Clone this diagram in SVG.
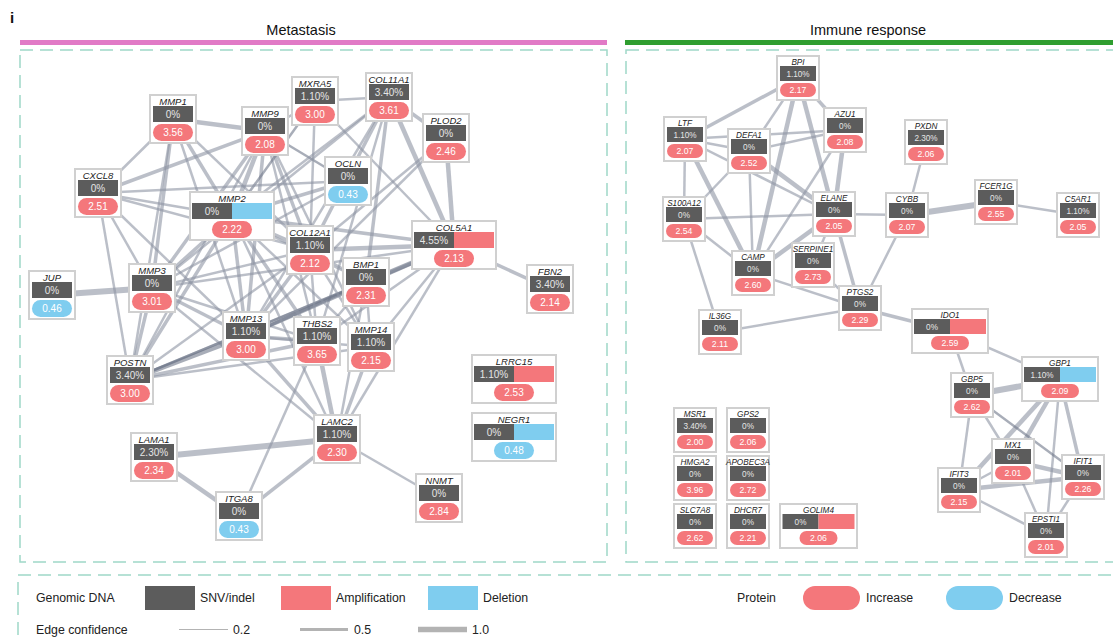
<svg xmlns="http://www.w3.org/2000/svg" width="1113" height="641" viewBox="0 0 1113 641">
<style>
text{font-family:"Liberation Sans",Arial,sans-serif}
.box{fill:#fff;stroke:#d0d0d0;stroke-width:2}
.snv{fill:#5c5c5c}
.amp{fill:#f4777b}
.del{fill:#7fcdef}
.inc{fill:#f4777b}
.dec{fill:#7fcdef}
.nm{font-size:9.5px;font-style:italic;fill:#222;text-anchor:middle}
.pc{font-size:10px;fill:#e6e6e6;text-anchor:middle}
.vl{font-size:10px;fill:#fff;text-anchor:middle}
.r .nm{font-size:8.2px}
.r .pc{font-size:8.2px}
.r .vl{font-size:8.7px}
.dash{fill:none;stroke:#9fd8c8;stroke-width:1.5;stroke-dasharray:13 7}
#edges line{stroke:#8e95a4;stroke-opacity:0.6;stroke-linecap:butt}
#edges line.dk{stroke:#6e7789;stroke-opacity:0.6}
.w3{stroke-width:2.5}
.w4{stroke-width:3.5}
.w5{stroke-width:4.5}
.w6{stroke-width:6}
.lg{font-size:12.3px;fill:#222}
</style>

<text x="10" y="23" style="font-size:15px;font-weight:bold;fill:#111">i</text>
<text x="301" y="35" style="font-size:14.5px;fill:#111;text-anchor:middle">Metastasis</text>
<text x="868" y="35" style="font-size:14.5px;fill:#111;text-anchor:middle">Immune response</text>
<rect x="20" y="40" width="587" height="5" fill="#e17ac6"/>
<rect x="625" y="40" width="488" height="5" fill="#2f9e2f"/>
<rect class="dash" x="20" y="50" width="587" height="512"/>
<rect class="dash" x="626" y="50" width="500" height="512"/>
<rect class="dash" x="18" y="575" width="1110" height="80"/>

<g id="edges">
<line class="w5" x1="173" y1="119" x2="265" y2="131"/>
<line class="w3" x1="173" y1="119" x2="98" y2="193"/>
<line class="w4" x1="173" y1="119" x2="152" y2="288"/>
<line class="w3" x1="173" y1="119" x2="130" y2="380"/>
<line class="w4" x1="173" y1="119" x2="232" y2="216"/>
<line class="w3" x1="173" y1="119" x2="310" y2="250"/>
<line class="w3" x1="173" y1="119" x2="246" y2="336"/>
<line class="w4" x1="265" y1="131" x2="98" y2="193"/>
<line class="w5" x1="265" y1="131" x2="232" y2="216"/>
<line class="w4" x1="265" y1="131" x2="152" y2="288"/>
<line class="w4" x1="265" y1="131" x2="246" y2="336"/>
<line class="w3" x1="265" y1="131" x2="130" y2="380"/>
<line class="w4" x1="265" y1="131" x2="310" y2="250"/>
<line class="w3" x1="265" y1="131" x2="317" y2="341"/>
<line class="w3" x1="265" y1="131" x2="371" y2="347"/>
<line class="w3" x1="265" y1="131" x2="315" y2="101"/>
<line class="w3 dk" x1="265" y1="131" x2="348" y2="181"/>
<line class="w3" x1="315" y1="101" x2="389" y2="97"/>
<line class="w3" x1="315" y1="101" x2="310" y2="250"/>
<line class="w3" x1="315" y1="101" x2="454" y2="245"/>
<line class="w3 dk" x1="315" y1="101" x2="232" y2="216"/>
<line class="w4" x1="389" y1="97" x2="446" y2="138"/>
<line class="w5" x1="389" y1="97" x2="454" y2="245"/>
<line class="w4" x1="389" y1="97" x2="310" y2="250"/>
<line class="w3" x1="389" y1="97" x2="232" y2="216"/>
<line class="w3" x1="389" y1="97" x2="246" y2="336"/>
<line class="w4" x1="389" y1="97" x2="366" y2="282"/>
<line class="w3" x1="389" y1="97" x2="317" y2="341"/>
<line class="w3" x1="389" y1="97" x2="152" y2="288"/>
<line class="w5" x1="446" y1="138" x2="454" y2="245"/>
<line class="w3" x1="446" y1="138" x2="310" y2="250"/>
<line class="w3" x1="446" y1="138" x2="246" y2="336"/>
<line class="w4" x1="348" y1="181" x2="232" y2="216"/>
<line class="w3" x1="348" y1="181" x2="152" y2="288"/>
<line class="w3" x1="348" y1="181" x2="98" y2="193"/>
<line class="w4" x1="454" y1="245" x2="550" y2="289"/>
<line class="w5 dk" x1="454" y1="245" x2="366" y2="282"/>
<line class="w5" x1="454" y1="245" x2="310" y2="250"/>
<line class="w4" x1="454" y1="245" x2="232" y2="216"/>
<line class="w3" x1="454" y1="245" x2="371" y2="347"/>
<line class="w3" x1="454" y1="245" x2="317" y2="341"/>
<line class="w3" x1="454" y1="245" x2="337" y2="439"/>
<line class="w4 dk" x1="454" y1="245" x2="246" y2="336"/>
<line class="w3" x1="454" y1="245" x2="130" y2="380"/>
<line class="w3" x1="454" y1="245" x2="152" y2="288"/>
<line class="w6" x1="52" y1="295" x2="152" y2="288"/>
<line class="w4" x1="152" y1="288" x2="130" y2="380"/>
<line class="w4" x1="152" y1="288" x2="246" y2="336"/>
<line class="w4" x1="152" y1="288" x2="232" y2="216"/>
<line class="w3" x1="152" y1="288" x2="98" y2="193"/>
<line class="w3" x1="152" y1="288" x2="310" y2="250"/>
<line class="w3" x1="152" y1="288" x2="317" y2="341"/>
<line class="w3" x1="152" y1="288" x2="337" y2="439"/>
<line class="w5 dk" x1="130" y1="380" x2="246" y2="336"/>
<line class="w4" x1="130" y1="380" x2="317" y2="341"/>
<line class="w3" x1="130" y1="380" x2="371" y2="347"/>
<line class="w3 dk" x1="130" y1="380" x2="366" y2="282"/>
<line class="w3" x1="130" y1="380" x2="310" y2="250"/>
<line class="w3" x1="130" y1="380" x2="98" y2="193"/>
<line class="w4" x1="130" y1="380" x2="232" y2="216"/>
<line class="w4" x1="246" y1="336" x2="232" y2="216"/>
<line class="w4" x1="246" y1="336" x2="310" y2="250"/>
<line class="w4" x1="246" y1="336" x2="317" y2="341"/>
<line class="w4 dk" x1="246" y1="336" x2="366" y2="282"/>
<line class="w3" x1="246" y1="336" x2="371" y2="347"/>
<line class="w4" x1="246" y1="336" x2="337" y2="439"/>
<line class="w5" x1="317" y1="341" x2="337" y2="439"/>
<line class="w3" x1="317" y1="341" x2="366" y2="282"/>
<line class="w3" x1="317" y1="341" x2="310" y2="250"/>
<line class="w4" x1="317" y1="341" x2="232" y2="216"/>
<line class="w4" x1="371" y1="347" x2="337" y2="439"/>
<line class="w3" x1="371" y1="347" x2="366" y2="282"/>
<line class="w3" x1="371" y1="347" x2="310" y2="250"/>
<line class="w3" x1="371" y1="347" x2="232" y2="216"/>
<line class="w3" x1="366" y1="282" x2="337" y2="439"/>
<line class="w3" x1="366" y1="282" x2="310" y2="250"/>
<line class="w3" x1="366" y1="282" x2="232" y2="216"/>
<line class="w4" x1="310" y1="250" x2="232" y2="216"/>
<line class="w6" x1="337" y1="439" x2="154" y2="457"/>
<line class="w4" x1="337" y1="439" x2="239" y2="516"/>
<line class="w3" x1="337" y1="439" x2="439" y2="498"/>
<line class="w5" x1="154" y1="457" x2="239" y2="516"/>
<line class="w3" x1="239" y1="516" x2="317" y2="341"/>
<line class="w3" x1="98" y1="193" x2="232" y2="216"/>
<line class="w3" x1="98" y1="193" x2="310" y2="250"/>
<line class="w3" x1="98" y1="193" x2="246" y2="336"/>
<line class="w3" x1="232" y1="216" x2="337" y2="439"/>

<line class="w4" x1="798" y1="78" x2="685" y2="139"/>
<line class="w3" x1="798" y1="78" x2="749" y2="151"/>
<line class="w4" x1="798" y1="78" x2="845" y2="130"/>
<line class="w5" x1="798" y1="78" x2="834" y2="214"/>
<line class="w5" x1="798" y1="78" x2="753" y2="273"/>
<line class="w3" x1="685" y1="139" x2="749" y2="151"/>
<line class="w3" x1="685" y1="139" x2="845" y2="130"/>
<line class="w3" x1="685" y1="139" x2="834" y2="214"/>
<line class="w3" x1="685" y1="139" x2="684" y2="219"/>
<line class="w5" x1="685" y1="139" x2="753" y2="273"/>
<line class="w3" x1="749" y1="151" x2="845" y2="130"/>
<line class="w5" x1="749" y1="151" x2="834" y2="214"/>
<line class="w3" x1="749" y1="151" x2="753" y2="273"/>
<line class="w3" x1="749" y1="151" x2="684" y2="219"/>
<line class="w5" x1="845" y1="130" x2="834" y2="214"/>
<line class="w3" x1="845" y1="130" x2="753" y2="273"/>
<line class="w3" x1="684" y1="219" x2="834" y2="214"/>
<line class="w3" x1="684" y1="219" x2="753" y2="273"/>
<line class="w3" x1="684" y1="219" x2="720" y2="332"/>
<line class="w3" x1="834" y1="214" x2="907" y2="215"/>
<line class="w5" x1="834" y1="214" x2="753" y2="273"/>
<line class="w4" x1="834" y1="214" x2="860" y2="308"/>
<line class="w3" x1="834" y1="214" x2="813" y2="265"/>
<line class="w3" x1="907" y1="215" x2="926" y2="142"/>
<line class="w6" x1="907" y1="215" x2="996" y2="202"/>
<line class="w3" x1="996" y1="202" x2="1078" y2="215"/>
<line class="w3" x1="907" y1="215" x2="860" y2="308"/>
<line class="w3" x1="753" y1="273" x2="860" y2="308"/>
<line class="w3" x1="813" y1="265" x2="860" y2="308"/>
<line class="w3" x1="720" y1="332" x2="860" y2="308"/>
<line class="w4" x1="860" y1="308" x2="950" y2="331"/>
<line class="w3" x1="950" y1="331" x2="972" y2="395"/>
<line class="w3" x1="950" y1="331" x2="1060" y2="379"/>
<line class="w6" x1="1060" y1="379" x2="972" y2="395"/>
<line class="w5" x1="1060" y1="379" x2="1013" y2="461"/>
<line class="w5" x1="1060" y1="379" x2="959" y2="490"/>
<line class="w3" x1="1060" y1="379" x2="1046" y2="535"/>
<line class="w4" x1="1060" y1="379" x2="1083" y2="477"/>
<line class="w3" x1="972" y1="395" x2="1013" y2="461"/>
<line class="w3" x1="972" y1="395" x2="959" y2="490"/>
<line class="w3 dk" x1="972" y1="395" x2="1083" y2="477"/>
<line class="w3" x1="1013" y1="461" x2="959" y2="490"/>
<line class="w5" x1="1013" y1="461" x2="1083" y2="477"/>
<line class="w3" x1="1013" y1="461" x2="1046" y2="535"/>
<line class="w5" x1="959" y1="490" x2="1083" y2="477"/>
<line class="w3" x1="959" y1="490" x2="1046" y2="535"/>
<line class="w3" x1="1083" y1="477" x2="1046" y2="535"/>
</g>

<!-- Metastasis nodes -->
<g id="n-MMP1" transform="translate(150,95)"><rect class="box" width="46" height="48"/><text class="nm" x="23" y="9.5">MMP1</text><rect class="snv" x="3" y="11" width="40" height="16"/><text class="pc" x="23" y="22.5">0%</text><rect class="inc" x="3" y="29" width="40" height="17" rx="8.5"/><text class="vl" x="23" y="41">3.56</text></g>
<g id="n-MMP9" transform="translate(242,107)"><rect class="box" width="46" height="48"/><text class="nm" x="23" y="9.5">MMP9</text><rect class="snv" x="3" y="11" width="40" height="16"/><text class="pc" x="23" y="22.5">0%</text><rect class="inc" x="3" y="29" width="40" height="17" rx="8.5"/><text class="vl" x="23" y="41">2.08</text></g>
<g id="n-MXRA5" transform="translate(292,77)"><rect class="box" width="46" height="48"/><text class="nm" x="23" y="9.5">MXRA5</text><rect class="snv" x="3" y="11" width="40" height="16"/><text class="pc" x="23" y="22.5">1.10%</text><rect class="inc" x="3" y="29" width="40" height="17" rx="8.5"/><text class="vl" x="23" y="41">3.00</text></g>
<g id="n-COL11A1" transform="translate(366,73)"><rect class="box" width="46" height="48"/><text class="nm" x="23" y="9.5">COL11A1</text><rect class="snv" x="3" y="11" width="40" height="16"/><text class="pc" x="23" y="22.5">3.40%</text><rect class="inc" x="3" y="29" width="40" height="17" rx="8.5"/><text class="vl" x="23" y="41">3.61</text></g>
<g id="n-PLOD2" transform="translate(423,114)"><rect class="box" width="46" height="48"/><text class="nm" x="23" y="9.5">PLOD2</text><rect class="snv" x="3" y="11" width="40" height="16"/><text class="pc" x="23" y="22.5">0%</text><rect class="inc" x="3" y="29" width="40" height="17" rx="8.5"/><text class="vl" x="23" y="41">2.46</text></g>
<g id="n-OCLN" transform="translate(325,157)"><rect class="box" width="46" height="48"/><text class="nm" x="23" y="9.5">OCLN</text><rect class="snv" x="3" y="11" width="40" height="16"/><text class="pc" x="23" y="22.5">0%</text><rect class="dec" x="3" y="29" width="40" height="17" rx="8.5"/><text class="vl" x="23" y="41">0.43</text></g>
<g id="n-CXCL8" transform="translate(75,169)"><rect class="box" width="46" height="48"/><text class="nm" x="23" y="9.5">CXCL8</text><rect class="snv" x="3" y="11" width="40" height="16"/><text class="pc" x="23" y="22.5">0%</text><rect class="inc" x="3" y="29" width="40" height="17" rx="8.5"/><text class="vl" x="23" y="41">2.51</text></g>
<g id="n-MMP2" transform="translate(190,192)"><rect class="box" width="84" height="48"/><text class="nm" x="42" y="9.5">MMP2</text><rect class="snv" x="2" y="11" width="40" height="16"/><rect class="del" x="42" y="11" width="40" height="16"/><text class="pc" x="22" y="22.5">0%</text><rect class="inc" x="22" y="29" width="40" height="17" rx="8.5"/><text class="vl" x="42" y="41">2.22</text></g>
<g id="n-COL12A1" transform="translate(287,226)"><rect class="box" width="46" height="48"/><text class="nm" x="23" y="9.5">COL12A1</text><rect class="snv" x="3" y="11" width="40" height="16"/><text class="pc" x="23" y="22.5">1.10%</text><rect class="inc" x="3" y="29" width="40" height="17" rx="8.5"/><text class="vl" x="23" y="41">2.12</text></g>
<g id="n-COL5A1" transform="translate(412,221)"><rect class="box" width="84" height="48"/><text class="nm" x="42" y="9.5">COL5A1</text><rect class="snv" x="2" y="11" width="40" height="16"/><rect class="amp" x="42" y="11" width="40" height="16"/><text class="pc" x="22" y="22.5">4.55%</text><rect class="inc" x="22" y="29" width="40" height="17" rx="8.5"/><text class="vl" x="42" y="41">2.13</text></g>
<g id="n-BMP1" transform="translate(343,258)"><rect class="box" width="46" height="48"/><text class="nm" x="23" y="9.5">BMP1</text><rect class="snv" x="3" y="11" width="40" height="16"/><text class="pc" x="23" y="22.5">0%</text><rect class="inc" x="3" y="29" width="40" height="17" rx="8.5"/><text class="vl" x="23" y="41">2.31</text></g>
<g id="n-FBN2" transform="translate(527,265)"><rect class="box" width="46" height="48"/><text class="nm" x="23" y="9.5">FBN2</text><rect class="snv" x="3" y="11" width="40" height="16"/><text class="pc" x="23" y="22.5">3.40%</text><rect class="inc" x="3" y="29" width="40" height="17" rx="8.5"/><text class="vl" x="23" y="41">2.14</text></g>
<g id="n-JUP" transform="translate(29,271)"><rect class="box" width="46" height="48"/><text class="nm" x="23" y="9.5">JUP</text><rect class="snv" x="3" y="11" width="40" height="16"/><text class="pc" x="23" y="22.5">0%</text><rect class="dec" x="3" y="29" width="40" height="17" rx="8.5"/><text class="vl" x="23" y="41">0.46</text></g>
<g id="n-MMP3" transform="translate(129,264)"><rect class="box" width="46" height="48"/><text class="nm" x="23" y="9.5">MMP3</text><rect class="snv" x="3" y="11" width="40" height="16"/><text class="pc" x="23" y="22.5">0%</text><rect class="inc" x="3" y="29" width="40" height="17" rx="8.5"/><text class="vl" x="23" y="41">3.01</text></g>
<g id="n-MMP13" transform="translate(223,312)"><rect class="box" width="46" height="48"/><text class="nm" x="23" y="9.5">MMP13</text><rect class="snv" x="3" y="11" width="40" height="16"/><text class="pc" x="23" y="22.5">1.10%</text><rect class="inc" x="3" y="29" width="40" height="17" rx="8.5"/><text class="vl" x="23" y="41">3.00</text></g>
<g id="n-THBS2" transform="translate(294,317)"><rect class="box" width="46" height="48"/><text class="nm" x="23" y="9.5">THBS2</text><rect class="snv" x="3" y="11" width="40" height="16"/><text class="pc" x="23" y="22.5">1.10%</text><rect class="inc" x="3" y="29" width="40" height="17" rx="8.5"/><text class="vl" x="23" y="41">3.65</text></g>
<g id="n-MMP14" transform="translate(348,323)"><rect class="box" width="46" height="48"/><text class="nm" x="23" y="9.5">MMP14</text><rect class="snv" x="3" y="11" width="40" height="16"/><text class="pc" x="23" y="22.5">1.10%</text><rect class="inc" x="3" y="29" width="40" height="17" rx="8.5"/><text class="vl" x="23" y="41">2.15</text></g>
<g id="n-POSTN" transform="translate(107,356)"><rect class="box" width="46" height="48"/><text class="nm" x="23" y="9.5">POSTN</text><rect class="snv" x="3" y="11" width="40" height="16"/><text class="pc" x="23" y="22.5">3.40%</text><rect class="inc" x="3" y="29" width="40" height="17" rx="8.5"/><text class="vl" x="23" y="41">3.00</text></g>
<g id="n-LRRC15" transform="translate(472,355)"><rect class="box" width="84" height="48"/><text class="nm" x="42" y="9.5">LRRC15</text><rect class="snv" x="2" y="11" width="40" height="16"/><rect class="amp" x="42" y="11" width="40" height="16"/><text class="pc" x="22" y="22.5">1.10%</text><rect class="inc" x="22" y="29" width="40" height="17" rx="8.5"/><text class="vl" x="42" y="41">2.53</text></g>
<g id="n-NEGR1" transform="translate(472,413)"><rect class="box" width="84" height="48"/><text class="nm" x="42" y="9.5">NEGR1</text><rect class="snv" x="2" y="11" width="40" height="16"/><rect class="del" x="42" y="11" width="40" height="16"/><text class="pc" x="22" y="22.5">0%</text><rect class="dec" x="22" y="29" width="40" height="17" rx="8.5"/><text class="vl" x="42" y="41">0.48</text></g>
<g id="n-LAMC2" transform="translate(314,415)"><rect class="box" width="46" height="48"/><text class="nm" x="23" y="9.5">LAMC2</text><rect class="snv" x="3" y="11" width="40" height="16"/><text class="pc" x="23" y="22.5">1.10%</text><rect class="inc" x="3" y="29" width="40" height="17" rx="8.5"/><text class="vl" x="23" y="41">2.30</text></g>
<g id="n-LAMA1" transform="translate(131,433)"><rect class="box" width="46" height="48"/><text class="nm" x="23" y="9.5">LAMA1</text><rect class="snv" x="3" y="11" width="40" height="16"/><text class="pc" x="23" y="22.5">2.30%</text><rect class="inc" x="3" y="29" width="40" height="17" rx="8.5"/><text class="vl" x="23" y="41">2.34</text></g>
<g id="n-ITGA8" transform="translate(216,492)"><rect class="box" width="46" height="48"/><text class="nm" x="23" y="9.5">ITGA8</text><rect class="snv" x="3" y="11" width="40" height="16"/><text class="pc" x="23" y="22.5">0%</text><rect class="dec" x="3" y="29" width="40" height="17" rx="8.5"/><text class="vl" x="23" y="41">0.43</text></g>
<g id="n-NNMT" transform="translate(416,474)"><rect class="box" width="46" height="48"/><text class="nm" x="23" y="9.5">NNMT</text><rect class="snv" x="3" y="11" width="40" height="16"/><text class="pc" x="23" y="22.5">0%</text><rect class="inc" x="3" y="29" width="40" height="17" rx="8.5"/><text class="vl" x="23" y="41">2.84</text></g>

<!-- Immune response nodes -->
<g class="r">
<g id="n-BPI" transform="translate(777,56)"><rect class="box" width="42" height="44"/><text class="nm" x="21" y="8.5">BPI</text><rect class="snv" x="3" y="10" width="36" height="15"/><text class="pc" x="21" y="20.5">1.10%</text><rect class="inc" x="3" y="27" width="36" height="14" rx="7"/><text class="vl" x="21" y="37">2.17</text></g>
<g id="n-LTF" transform="translate(664,117)"><rect class="box" width="42" height="44"/><text class="nm" x="21" y="8.5">LTF</text><rect class="snv" x="3" y="10" width="36" height="15"/><text class="pc" x="21" y="20.5">1.10%</text><rect class="inc" x="3" y="27" width="36" height="14" rx="7"/><text class="vl" x="21" y="37">2.07</text></g>
<g id="n-AZU1" transform="translate(824,108)"><rect class="box" width="42" height="44"/><text class="nm" x="21" y="8.5">AZU1</text><rect class="snv" x="3" y="10" width="36" height="15"/><text class="pc" x="21" y="20.5">0%</text><rect class="inc" x="3" y="27" width="36" height="14" rx="7"/><text class="vl" x="21" y="37">2.08</text></g>
<g id="n-DEFA1" transform="translate(728,129)"><rect class="box" width="42" height="44"/><text class="nm" x="21" y="8.5">DEFA1</text><rect class="snv" x="3" y="10" width="36" height="15"/><text class="pc" x="21" y="20.5">0%</text><rect class="inc" x="3" y="27" width="36" height="14" rx="7"/><text class="vl" x="21" y="37">2.52</text></g>
<g id="n-S100A12" transform="translate(663,197)"><rect class="box" width="42" height="44"/><text class="nm" x="21" y="8.5">S100A12</text><rect class="snv" x="3" y="10" width="36" height="15"/><text class="pc" x="21" y="20.5">0%</text><rect class="inc" x="3" y="27" width="36" height="14" rx="7"/><text class="vl" x="21" y="37">2.54</text></g>
<g id="n-ELANE" transform="translate(813,192)"><rect class="box" width="42" height="44"/><text class="nm" x="21" y="8.5">ELANE</text><rect class="snv" x="3" y="10" width="36" height="15"/><text class="pc" x="21" y="20.5">0%</text><rect class="inc" x="3" y="27" width="36" height="14" rx="7"/><text class="vl" x="21" y="37">2.05</text></g>
<g id="n-PXDN" transform="translate(905,120)"><rect class="box" width="42" height="44"/><text class="nm" x="21" y="8.5">PXDN</text><rect class="snv" x="3" y="10" width="36" height="15"/><text class="pc" x="21" y="20.5">2.30%</text><rect class="inc" x="3" y="27" width="36" height="14" rx="7"/><text class="vl" x="21" y="37">2.06</text></g>
<g id="n-CYBB" transform="translate(886,193)"><rect class="box" width="42" height="44"/><text class="nm" x="21" y="8.5">CYBB</text><rect class="snv" x="3" y="10" width="36" height="15"/><text class="pc" x="21" y="20.5">0%</text><rect class="inc" x="3" y="27" width="36" height="14" rx="7"/><text class="vl" x="21" y="37">2.07</text></g>
<g id="n-FCER1G" transform="translate(975,180)"><rect class="box" width="42" height="44"/><text class="nm" x="21" y="8.5">FCER1G</text><rect class="snv" x="3" y="10" width="36" height="15"/><text class="pc" x="21" y="20.5">0%</text><rect class="inc" x="3" y="27" width="36" height="14" rx="7"/><text class="vl" x="21" y="37">2.55</text></g>
<g id="n-C5AR1" transform="translate(1057,193)"><rect class="box" width="42" height="44"/><text class="nm" x="21" y="8.5">C5AR1</text><rect class="snv" x="3" y="10" width="36" height="15"/><text class="pc" x="21" y="20.5">1.10%</text><rect class="inc" x="3" y="27" width="36" height="14" rx="7"/><text class="vl" x="21" y="37">2.05</text></g>
<g id="n-CAMP" transform="translate(732,251)"><rect class="box" width="42" height="44"/><text class="nm" x="21" y="8.5">CAMP</text><rect class="snv" x="3" y="10" width="36" height="15"/><text class="pc" x="21" y="20.5">0%</text><rect class="inc" x="3" y="27" width="36" height="14" rx="7"/><text class="vl" x="21" y="37">2.60</text></g>
<g id="n-SERPINE1" transform="translate(792,243)"><rect class="box" width="42" height="44"/><text class="nm" x="21" y="8.5">SERPINE1</text><rect class="snv" x="3" y="10" width="36" height="15"/><text class="pc" x="21" y="20.5">0%</text><rect class="inc" x="3" y="27" width="36" height="14" rx="7"/><text class="vl" x="21" y="37">2.73</text></g>
<g id="n-PTGS2" transform="translate(839,286)"><rect class="box" width="42" height="44"/><text class="nm" x="21" y="8.5">PTGS2</text><rect class="snv" x="3" y="10" width="36" height="15"/><text class="pc" x="21" y="20.5">0%</text><rect class="inc" x="3" y="27" width="36" height="14" rx="7"/><text class="vl" x="21" y="37">2.29</text></g>
<g id="n-IL36G" transform="translate(699,310)"><rect class="box" width="42" height="44"/><text class="nm" x="21" y="8.5">IL36G</text><rect class="snv" x="3" y="10" width="36" height="15"/><text class="pc" x="21" y="20.5">0%</text><rect class="inc" x="3" y="27" width="36" height="14" rx="7"/><text class="vl" x="21" y="37">2.11</text></g>
<g id="n-IDO1" transform="translate(912,309)"><rect class="box" width="76" height="44"/><text class="nm" x="38" y="8.5">IDO1</text><rect class="snv" x="2" y="10" width="36" height="15"/><rect class="amp" x="38" y="10" width="36" height="15"/><text class="pc" x="20" y="20.5">0%</text><rect class="inc" x="19" y="27" width="38" height="14" rx="7"/><text class="vl" x="38" y="37">2.59</text></g>
<g id="n-GBP1" transform="translate(1022,357)"><rect class="box" width="76" height="44"/><text class="nm" x="38" y="8.5">GBP1</text><rect class="snv" x="2" y="10" width="36" height="15"/><rect class="del" x="38" y="10" width="36" height="15"/><text class="pc" x="20" y="20.5">1.10%</text><rect class="inc" x="19" y="27" width="38" height="14" rx="7"/><text class="vl" x="38" y="37">2.09</text></g>
<g id="n-GBP5" transform="translate(951,373)"><rect class="box" width="42" height="44"/><text class="nm" x="21" y="8.5">GBP5</text><rect class="snv" x="3" y="10" width="36" height="15"/><text class="pc" x="21" y="20.5">0%</text><rect class="inc" x="3" y="27" width="36" height="14" rx="7"/><text class="vl" x="21" y="37">2.62</text></g>
<g id="n-MX1" transform="translate(992,439)"><rect class="box" width="42" height="44"/><text class="nm" x="21" y="8.5">MX1</text><rect class="snv" x="3" y="10" width="36" height="15"/><text class="pc" x="21" y="20.5">0%</text><rect class="inc" x="3" y="27" width="36" height="14" rx="7"/><text class="vl" x="21" y="37">2.01</text></g>
<g id="n-IFIT1" transform="translate(1062,455)"><rect class="box" width="42" height="44"/><text class="nm" x="21" y="8.5">IFIT1</text><rect class="snv" x="3" y="10" width="36" height="15"/><text class="pc" x="21" y="20.5">0%</text><rect class="inc" x="3" y="27" width="36" height="14" rx="7"/><text class="vl" x="21" y="37">2.26</text></g>
<g id="n-IFIT3" transform="translate(938,468)"><rect class="box" width="42" height="44"/><text class="nm" x="21" y="8.5">IFIT3</text><rect class="snv" x="3" y="10" width="36" height="15"/><text class="pc" x="21" y="20.5">0%</text><rect class="inc" x="3" y="27" width="36" height="14" rx="7"/><text class="vl" x="21" y="37">2.15</text></g>
<g id="n-EPSTI1" transform="translate(1025,513)"><rect class="box" width="42" height="44"/><text class="nm" x="21" y="8.5">EPSTI1</text><rect class="snv" x="3" y="10" width="36" height="15"/><text class="pc" x="21" y="20.5">0%</text><rect class="inc" x="3" y="27" width="36" height="14" rx="7"/><text class="vl" x="21" y="37">2.01</text></g>
<g id="n-MSR1" transform="translate(674,408)"><rect class="box" width="42" height="44"/><text class="nm" x="21" y="8.5">MSR1</text><rect class="snv" x="3" y="10" width="36" height="15"/><text class="pc" x="21" y="20.5">3.40%</text><rect class="inc" x="3" y="27" width="36" height="14" rx="7"/><text class="vl" x="21" y="37">2.00</text></g>
<g id="n-GPS2" transform="translate(727,408)"><rect class="box" width="42" height="44"/><text class="nm" x="21" y="8.5">GPS2</text><rect class="snv" x="3" y="10" width="36" height="15"/><text class="pc" x="21" y="20.5">0%</text><rect class="inc" x="3" y="27" width="36" height="14" rx="7"/><text class="vl" x="21" y="37">2.06</text></g>
<g id="n-HMGA2" transform="translate(674,456)"><rect class="box" width="42" height="44"/><text class="nm" x="21" y="8.5">HMGA2</text><rect class="snv" x="3" y="10" width="36" height="15"/><text class="pc" x="21" y="20.5">0%</text><rect class="inc" x="3" y="27" width="36" height="14" rx="7"/><text class="vl" x="21" y="37">3.96</text></g>
<g id="n-APOBEC3A" transform="translate(727,456)"><rect class="box" width="42" height="44"/><text class="nm" x="21" y="8.5">APOBEC3A</text><rect class="snv" x="3" y="10" width="36" height="15"/><text class="pc" x="21" y="20.5">0%</text><rect class="inc" x="3" y="27" width="36" height="14" rx="7"/><text class="vl" x="21" y="37">2.72</text></g>
<g id="n-SLC7A8" transform="translate(674,504)"><rect class="box" width="42" height="44"/><text class="nm" x="21" y="8.5">SLC7A8</text><rect class="snv" x="3" y="10" width="36" height="15"/><text class="pc" x="21" y="20.5">0%</text><rect class="inc" x="3" y="27" width="36" height="14" rx="7"/><text class="vl" x="21" y="37">2.62</text></g>
<g id="n-DHCR7" transform="translate(727,504)"><rect class="box" width="42" height="44"/><text class="nm" x="21" y="8.5">DHCR7</text><rect class="snv" x="3" y="10" width="36" height="15"/><text class="pc" x="21" y="20.5">0%</text><rect class="inc" x="3" y="27" width="36" height="14" rx="7"/><text class="vl" x="21" y="37">2.21</text></g>
<g id="n-GOLIM4" transform="translate(780,504)"><rect class="box" width="77" height="44"/><text class="nm" x="38.5" y="8.5">GOLIM4</text><rect class="snv" x="2.5" y="10" width="36" height="15"/><rect class="amp" x="38.5" y="10" width="36" height="15"/><text class="pc" x="20.5" y="20.5">0%</text><rect class="inc" x="19.5" y="27" width="38" height="14" rx="7"/><text class="vl" x="38.5" y="37">2.06</text></g>
</g>

<!-- Legend -->
<g id="legend">
<text class="lg" x="36" y="602">Genomic DNA</text>
<rect class="snv" x="145" y="586" width="50" height="24"/>
<text class="lg" x="200" y="602">SNV/indel</text>
<rect class="amp" x="281" y="586" width="50" height="24"/>
<text class="lg" x="336" y="602">Amplification</text>
<rect class="del" x="428" y="586" width="50" height="24"/>
<text class="lg" x="483" y="602">Deletion</text>
<text class="lg" x="737" y="602">Protein</text>
<rect class="inc" x="803" y="586" width="57" height="24" rx="12"/>
<text class="lg" x="866" y="602">Increase</text>
<rect class="dec" x="946" y="586" width="57" height="24" rx="12"/>
<text class="lg" x="1009" y="602">Decrease</text>
<text class="lg" x="36" y="634">Edge confidence</text>
<line x1="179" y1="629.5" x2="228" y2="629.5" stroke="#b3b3b3" stroke-width="1"/>
<text class="lg" x="233" y="634">0.2</text>
<line x1="300" y1="629.5" x2="348" y2="629.5" stroke="#b3b3b3" stroke-width="3"/>
<text class="lg" x="354" y="634">0.5</text>
<line x1="418" y1="629.5" x2="467" y2="629.5" stroke="#b3b3b3" stroke-width="5.5"/>
<text class="lg" x="472" y="634">1.0</text>
</g>
</svg>
